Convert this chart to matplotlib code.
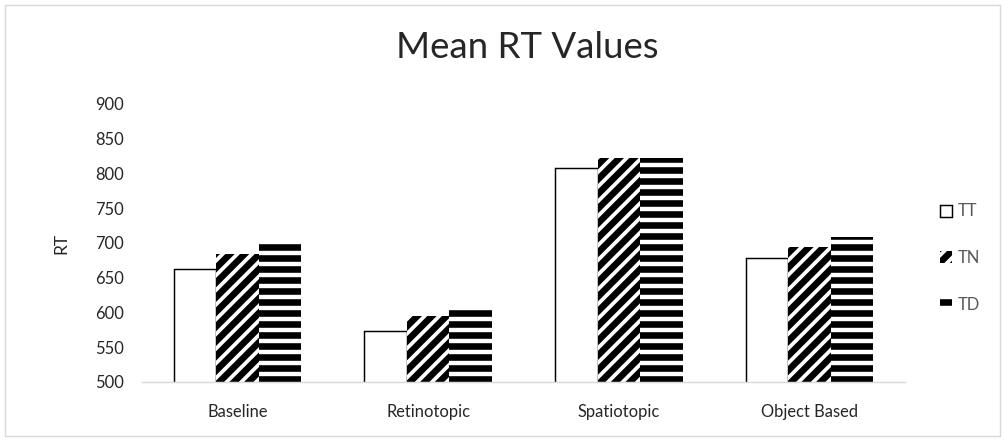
import matplotlib.pyplot as plt
import numpy as np
from matplotlib.patches import Rectangle

# данни, отчетени от графиката
categories = ["Baseline", "Retinotopic", "Spatiotopic", "Object Based"]
series_names = ["TT", "TN", "TD"]
tt_values = [662, 573, 808, 678]
tn_values = [684, 595, 822, 694]
td_values = [701, 604, 822, 709]
y_ticks = [500, 550, 600, 650, 700, 750, 800, 850, 900]

plt.rcParams["font.family"] = ["Lato", "DejaVu Sans"]
plt.rcParams["hatch.linewidth"] = 3.6

dpi = 132
fig = plt.figure(figsize=(1006 / dpi, 441 / dpi), dpi=dpi)
ax = fig.add_axes([142 / 1006, 1 - 382 / 441, 763 / 1006, 278 / 441])

# рамка около цялата фигура
fig.patches.append(Rectangle((5 / 1006, 5 / 441), 995 / 1006, 431 / 441,
                             transform=fig.transFigure, fill=False,
                             edgecolor="#d9d9d9", linewidth=0.8))

x = np.arange(len(categories))
w = 0.223
ax.bar(x - w, tt_values, w, color="white", edgecolor="black",
       linewidth=0.8, label=series_names[0])
ax.bar(x, tn_values, w, color="white", edgecolor="black", linewidth=0,
       hatch="///", label=series_names[1])
ax.bar(x + w, td_values, w, color="white", edgecolor="black", linewidth=0,
       hatch="--", label=series_names[2])

ax.set_ylim(500, 900)
ax.set_xlim(-0.5, len(categories) - 0.5)
ax.set_yticks(y_ticks)
ax.set_xticks(x)
ax.set_xticklabels(categories)
ax.tick_params(length=0, labelsize=9, colors="#262626")
ax.tick_params(axis="y", pad=10)
ax.tick_params(axis="x", pad=12)
for s in ["left", "right", "top"]:
    ax.spines[s].set_visible(False)
ax.spines["bottom"].set_color("#d9d9d9")
ax.spines["bottom"].set_linewidth(0.8)

ax.set_ylabel("RT", fontsize=9.5, color="#262626", labelpad=14)
fig.text(0.524, 1 - 47 / 441, "Mean RT Values", fontsize=20, color="#262626",
         ha="center", va="center")

leg = ax.legend(loc="center left", bbox_to_anchor=(1.026, 0.446), frameon=False,
                handlelength=0.75, handleheight=0.75, handletextpad=0.35,
                labelspacing=1.85, fontsize=9)
for t in leg.get_texts():
    t.set_color("#595959")

fig.savefig("out.png", dpi=dpi)
